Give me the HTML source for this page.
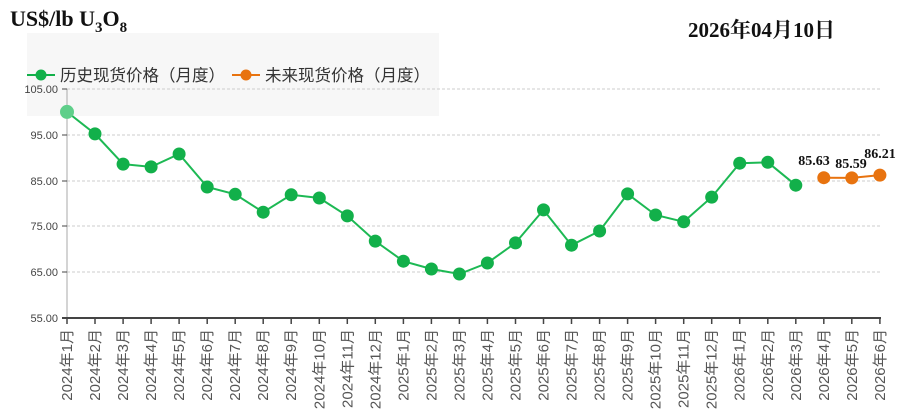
<!DOCTYPE html>
<html><head><meta charset="utf-8"><style>
body{margin:0;background:#fff}
svg{display:block}
.xl{font:15px "Liberation Sans","Noto Sans CJK SC",sans-serif;fill:#555}
.yl{font:11px "Liberation Sans",sans-serif;fill:#444}
</style></head><body>
<svg width="902" height="416" xmlns="http://www.w3.org/2000/svg">
<text x="10" y="26" font-family="Liberation Serif,serif" font-weight="bold" font-size="22" fill="#111">US$/lb U<tspan font-size="15" dy="6">3</tspan><tspan dy="-6">O</tspan><tspan font-size="15" dy="6">8</tspan></text>
<text x="688" y="37" font-family="Liberation Serif,'Noto Serif CJK SC',serif" font-weight="bold" font-size="21" fill="#111">2026年04月10日</text>
<rect x="27" y="33" width="412" height="83" fill="#f7f7f7"/>
<g stroke="#ccc" stroke-dasharray="3,2" stroke-width="1">
<line x1="67" y1="89" x2="880" y2="89"/><line x1="67" y1="135" x2="880" y2="135"/><line x1="67" y1="181" x2="880" y2="181"/><line x1="67" y1="226" x2="880" y2="226"/><line x1="67" y1="272" x2="880" y2="272"/>
</g>
<line x1="67" y1="89" x2="67" y2="318" stroke="#aaa"/>
<line x1="62" y1="318" x2="881" y2="318" stroke="#444" stroke-width="2"/>
<g stroke="#444"><line x1="62" y1="89" x2="67" y2="89"/><line x1="62" y1="135" x2="67" y2="135"/><line x1="62" y1="181" x2="67" y2="181"/><line x1="62" y1="226" x2="67" y2="226"/><line x1="62" y1="272" x2="67" y2="272"/></g>
<g class="yl" text-anchor="end"><text x="58" y="93">105.00</text><text x="58" y="139">95.00</text><text x="58" y="185">85.00</text><text x="58" y="230">75.00</text><text x="58" y="276">65.00</text><text x="58" y="322">55.00</text></g>
<g stroke="#444" stroke-width="1.5">
<line x1="67" y1="318" x2="67" y2="324"/><line x1="95" y1="318" x2="95" y2="324"/><line x1="123.1" y1="318" x2="123.1" y2="324"/><line x1="151.1" y1="318" x2="151.1" y2="324"/><line x1="179.1" y1="318" x2="179.1" y2="324"/><line x1="207.2" y1="318" x2="207.2" y2="324"/><line x1="235.2" y1="318" x2="235.2" y2="324"/><line x1="263.2" y1="318" x2="263.2" y2="324"/><line x1="291.2" y1="318" x2="291.2" y2="324"/><line x1="319.3" y1="318" x2="319.3" y2="324"/><line x1="347.3" y1="318" x2="347.3" y2="324"/><line x1="375.3" y1="318" x2="375.3" y2="324"/><line x1="403.4" y1="318" x2="403.4" y2="324"/><line x1="431.4" y1="318" x2="431.4" y2="324"/><line x1="459.4" y1="318" x2="459.4" y2="324"/><line x1="487.4" y1="318" x2="487.4" y2="324"/><line x1="515.5" y1="318" x2="515.5" y2="324"/><line x1="543.5" y1="318" x2="543.5" y2="324"/><line x1="571.5" y1="318" x2="571.5" y2="324"/><line x1="599.6" y1="318" x2="599.6" y2="324"/><line x1="627.6" y1="318" x2="627.6" y2="324"/><line x1="655.6" y1="318" x2="655.6" y2="324"/><line x1="683.7" y1="318" x2="683.7" y2="324"/><line x1="711.7" y1="318" x2="711.7" y2="324"/><line x1="739.7" y1="318" x2="739.7" y2="324"/><line x1="767.8" y1="318" x2="767.8" y2="324"/><line x1="795.8" y1="318" x2="795.8" y2="324"/><line x1="823.8" y1="318" x2="823.8" y2="324"/><line x1="851.8" y1="318" x2="851.8" y2="324"/><line x1="879.9" y1="318" x2="879.9" y2="324"/>
</g>
<g class="xl" text-anchor="end">
<text transform="translate(72,329) rotate(-90)">2024年1月</text>
<text transform="translate(100,329) rotate(-90)">2024年2月</text>
<text transform="translate(128.1,329) rotate(-90)">2024年3月</text>
<text transform="translate(156.1,329) rotate(-90)">2024年4月</text>
<text transform="translate(184.1,329) rotate(-90)">2024年5月</text>
<text transform="translate(212.2,329) rotate(-90)">2024年6月</text>
<text transform="translate(240.2,329) rotate(-90)">2024年7月</text>
<text transform="translate(268.2,329) rotate(-90)">2024年8月</text>
<text transform="translate(296.2,329) rotate(-90)">2024年9月</text>
<text transform="translate(324.3,329) rotate(-90)">2024年10月</text>
<text transform="translate(352.3,329) rotate(-90)">2024年11月</text>
<text transform="translate(380.3,329) rotate(-90)">2024年12月</text>
<text transform="translate(408.4,329) rotate(-90)">2025年1月</text>
<text transform="translate(436.4,329) rotate(-90)">2025年2月</text>
<text transform="translate(464.4,329) rotate(-90)">2025年3月</text>
<text transform="translate(492.4,329) rotate(-90)">2025年4月</text>
<text transform="translate(520.5,329) rotate(-90)">2025年5月</text>
<text transform="translate(548.5,329) rotate(-90)">2025年6月</text>
<text transform="translate(576.5,329) rotate(-90)">2025年7月</text>
<text transform="translate(604.6,329) rotate(-90)">2025年8月</text>
<text transform="translate(632.6,329) rotate(-90)">2025年9月</text>
<text transform="translate(660.6,329) rotate(-90)">2025年10月</text>
<text transform="translate(688.7,329) rotate(-90)">2025年11月</text>
<text transform="translate(716.7,329) rotate(-90)">2025年12月</text>
<text transform="translate(744.7,329) rotate(-90)">2026年1月</text>
<text transform="translate(772.8,329) rotate(-90)">2026年2月</text>
<text transform="translate(800.8,329) rotate(-90)">2026年3月</text>
<text transform="translate(828.8,329) rotate(-90)">2026年4月</text>
<text transform="translate(856.8,329) rotate(-90)">2026年5月</text>
<text transform="translate(884.9,329) rotate(-90)">2026年6月</text>
</g>
<polyline fill="none" stroke="#1db954" stroke-width="2" points="67,111.9 95,133.9 123.1,164.1 151.1,166.9 179.1,154 207.2,187 235.2,194.3 263.2,212.2 291.2,194.8 319.3,198 347.3,215.9 375.3,241.1 403.4,261.2 431.4,269 459.4,274 487.4,263 515.5,242.9 543.5,209.9 571.5,245.2 599.6,231 627.6,193.9 655.6,215 683.7,221.8 711.7,197.1 739.7,163.2 767.8,162.3 795.8,185.2"/>
<g fill="#12b04a">
<circle cx="95" cy="133.9" r="6.5"/><circle cx="123.1" cy="164.1" r="6.5"/><circle cx="151.1" cy="166.9" r="6.5"/><circle cx="179.1" cy="154" r="6.5"/><circle cx="207.2" cy="187" r="6.5"/><circle cx="235.2" cy="194.3" r="6.5"/><circle cx="263.2" cy="212.2" r="6.5"/><circle cx="291.2" cy="194.8" r="6.5"/><circle cx="319.3" cy="198" r="6.5"/><circle cx="347.3" cy="215.9" r="6.5"/><circle cx="375.3" cy="241.1" r="6.5"/><circle cx="403.4" cy="261.2" r="6.5"/><circle cx="431.4" cy="269" r="6.5"/><circle cx="459.4" cy="274" r="6.5"/><circle cx="487.4" cy="263" r="6.5"/><circle cx="515.5" cy="242.9" r="6.5"/><circle cx="543.5" cy="209.9" r="6.5"/><circle cx="571.5" cy="245.2" r="6.5"/><circle cx="599.6" cy="231" r="6.5"/><circle cx="627.6" cy="193.9" r="6.5"/><circle cx="655.6" cy="215" r="6.5"/><circle cx="683.7" cy="221.8" r="6.5"/><circle cx="711.7" cy="197.1" r="6.5"/><circle cx="739.7" cy="163.2" r="6.5"/><circle cx="767.8" cy="162.3" r="6.5"/><circle cx="795.8" cy="185.2" r="6.5"/>
</g>
<circle cx="67" cy="111.9" r="7" fill="#5fcf8a"/>
<polyline fill="none" stroke="#e8730f" stroke-width="2" points="823.8,177.7 851.8,177.9 879.9,175.1"/>
<g fill="#e8730f"><circle cx="823.8" cy="177.7" r="6.5"/><circle cx="851.8" cy="177.9" r="6.5"/><circle cx="879.9" cy="175.1" r="6.5"/></g>
<g font-family="Liberation Serif,serif" font-weight="bold" font-size="14" fill="#111" text-anchor="middle">
<text x="814" y="165">85.63</text><text x="851" y="168">85.59</text><text x="880" y="158">86.21</text>
</g>
<g font-family="'Liberation Sans','Noto Sans CJK SC',sans-serif" font-size="16.5" fill="#333">
<line x1="27" y1="75" x2="55" y2="75" stroke="#12b04a" stroke-width="2"/><circle cx="41" cy="75" r="5.5" fill="#12b04a"/>
<text x="60" y="81">历史现货价格（月度）</text>
<line x1="232" y1="75" x2="260" y2="75" stroke="#e8730f" stroke-width="2"/><circle cx="246" cy="75" r="5.5" fill="#e8730f"/>
<text x="265" y="81">未来现货价格（月度）</text>
</g>
</svg>
</body></html>
